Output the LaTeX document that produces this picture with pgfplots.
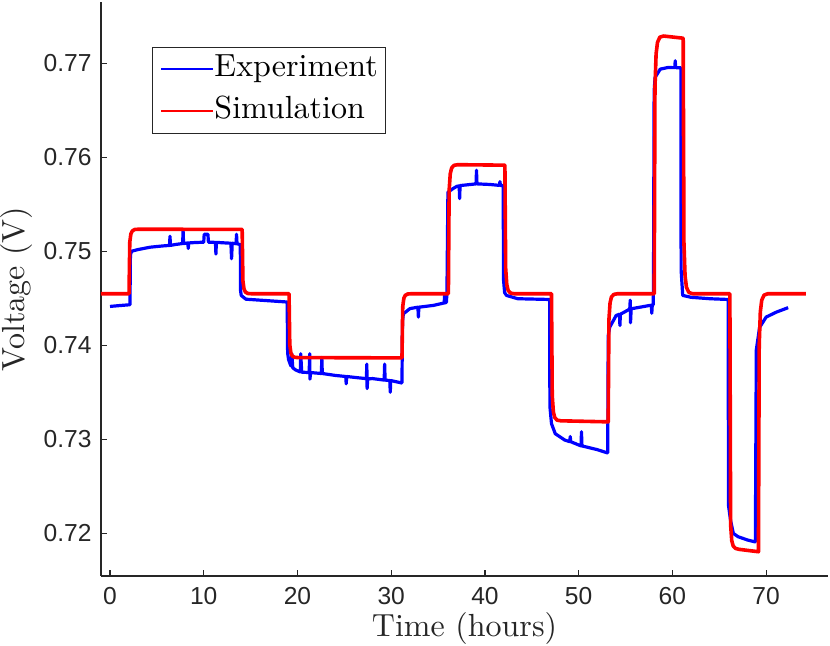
\documentclass[border=0pt]{standalone}
\usepackage{fontspec}
\setsansfont{Liberation Sans}
\newfontfamily\lmten{lmroman10-regular.otf}
\usepackage{pgfplots}
\pgfplotsset{compat=1.18}
\definecolor{axgray}{HTML}{262626}
\begin{document}
\begin{tikzpicture}
\begin{axis}[
  scale only axis,
  width=363.5pt, height=287pt,
  xmin=-0.96, xmax=76.6,
  ymin=0.71547, ymax=0.7765,
  axis lines=left,
  axis line style={-, draw=axgray, line width=0.6pt},
  tick align=inside,
  major tick length=3pt,
  tick style={draw=axgray, line width=0.6pt},
  xtick={0,10,20,30,40,50,60,70},
  ytick={0.72,0.73,0.74,0.75,0.76,0.77},
  scaled y ticks=false,
  /pgf/number format/assume math mode=true,
  xticklabel={\pgfmathprintnumber{\tick}},
  yticklabel={\pgfmathprintnumber[fixed,fixed zerofill,precision=2]{\tick}},
  ticklabel style={font=\sffamily\fontsize{12.3}{14}\selectfont, text=axgray, inner sep=0pt},
  xticklabel style={yshift=-5.5pt},
  yticklabel style={xshift=-4.5pt},
  legend style={at={(axis description cs:0,1)}, anchor=north west,
    xshift=25.5pt, yshift=-22.5pt,
    draw=axgray, line width=0.5pt,
    inner xsep=4pt, inner ysep=3pt,
    font=\lmten\fontsize{16}{19}\selectfont,
    nodes={inner sep=0pt, text height=11.5pt, text depth=4.5pt},
    row sep=5pt,
    cells={anchor=west}},
  legend image code/.code={\draw[#1, line width=1pt] (0pt,0pt) -- (26pt,0pt);},
]
\addplot[blue, line width=1.6pt, line join=round] coordinates {
(0,0.74413) (1.0,0.74422) (2.1,0.74431)
(2.13,0.74431) (2.18,0.7496) (2.3,0.75000) (3,0.75018) (4.3,0.75043) (5.5,0.75055)
(6.35,0.75062) (6.4,0.7516) (6.45,0.75062)
(7,0.75072) (7.75,0.75082) (7.8,0.7522) (7.85,0.75082) (8.3,0.75088) (8.35,0.7503) (8.4,0.75088)
(9,0.75092) (10.0,0.75096) (10.05,0.7518) (10.45,0.7518) (10.5,0.75096)
(11.25,0.75094) (11.3,0.7497) (11.35,0.75094) (12,0.7509) (12.9,0.75085) (12.97,0.7492) (13.04,0.75085)
(13.45,0.7508) (13.5,0.7518) (13.55,0.7508) (13.9,0.7507)
(13.93,0.7458) (14.0,0.7453) (14.5,0.7449) (17,0.74473) (18.9,0.7446)
(18.95,0.7392) (19.05,0.73847) (19.3,0.7378) (19.4,0.7391) (19.5,0.7376) (19.8,0.73738)
(20.3,0.73716) (20.35,0.7391) (20.45,0.73714) (21.25,0.7371) (21.3,0.7391) (21.33,0.7364) (21.4,0.7371)
(22.55,0.73700) (22.6,0.7387) (22.65,0.73700) (24,0.7368) (25.15,0.73668) (25.2,0.7359) (25.25,0.73668)
(27.35,0.73645) (27.4,0.7380) (27.43,0.7354) (27.5,0.73643) (28,0.73646) (29.25,0.7363) (29.3,0.7380)
(29.35,0.7363) (29.85,0.73625) (29.9,0.7350) (29.95,0.73625) (31.1,0.7360)
(31.15,0.7360) (31.2,0.7425) (31.3,0.74335) (32,0.7439) (32.85,0.74405) (32.9,0.7430) (32.95,0.74405)
(34.5,0.74424) (35.65,0.7445) (35.7,0.7453) (35.75,0.7445) (35.9,0.7446)
(35.95,0.7460) (36.05,0.75626) (36.5,0.7566) (37,0.7569) (37.25,0.75695) (37.3,0.7556) (37.35,0.75698)
(39.05,0.75716) (39.1,0.7586) (39.15,0.75716) (40.5,0.7571) (41.55,0.757) (41.6,0.7574) (41.65,0.757) (41.95,0.75697)
(41.98,0.7470) (42.1,0.7456) (42.3,0.7453) (43.5,0.74495) (46.9,0.74487)
(46.93,0.7335) (47.1,0.73167) (47.5,0.7306) (48.5,0.72993) (49.05,0.72975) (49.1,0.7303) (49.15,0.72975)
(50,0.7294) (50.25,0.7293) (50.3,0.7308) (50.35,0.7293) (52,0.7289) (53.05,0.72856)
(53.1,0.72856) (53.15,0.7410) (53.3,0.7419) (54.0,0.74317) (54.35,0.7433) (54.4,0.7421) (54.45,0.7433)
(55.45,0.74385) (55.5,0.7448) (55.53,0.7424) (55.6,0.74388) (57.6,0.74424) (57.75,0.74425) (57.8,0.7434)
(57.85,0.74428) (57.95,0.7443)
(57.98,0.7460) (58.05,0.7670) (58.15,0.76847) (58.7,0.76936) (59.5,0.76953) (60.25,0.76952) (60.3,0.77025)
(60.35,0.76952) (60.9,0.7695)
(60.93,0.7480) (61.1,0.7453) (62,0.7451) (64,0.74495) (65.95,0.74487)
(65.98,0.7230) (66.2,0.7214) (66.5,0.7200) (67,0.71965) (68,0.7193) (68.8,0.7191)
(68.85,0.7191) (68.95,0.7395) (69.3,0.7419) (70.0,0.7430) (71.1,0.74353) (72.35,0.744)
};
\addlegendentry{Experiment}
\addplot[red, line width=1.8pt, line join=round] coordinates {
(-1,0.74548) (2.03,0.74548)
(2.11,0.75097) (2.23,0.75186) (2.38,0.75215) (2.63,0.75231) (3.03,0.75234)
(14.1,0.75232)
(14.18,0.74685) (14.3,0.74596) (14.45,0.74565) (14.7,0.74551) (15.1,0.74548)
(19.1,0.74548)
(19.18,0.74005) (19.3,0.73916) (19.45,0.73885) (19.7,0.73872) (20.1,0.73869)
(31.15,0.73866)
(31.23,0.74412) (31.35,0.74500) (31.5,0.74531) (31.75,0.74545) (32.15,0.74548)
(36.1,0.74548)
(36.18,0.75646) (36.3,0.75824) (36.45,0.75886) (36.7,0.75913) (37.1,0.75920)
(42.13,0.75915)
(42.21,0.74822) (42.33,0.74644) (42.48,0.74582) (42.73,0.74555) (43.13,0.74548)
(47.1,0.74548)
(47.18,0.73467) (47.3,0.73292) (47.45,0.73231) (47.7,0.73204) (48.1,0.73197)
(53.15,0.73186)
(53.23,0.74276) (53.35,0.74453) (53.5,0.74514) (53.75,0.74541) (54.15,0.74548)
(58.06,0.74548)
(58.14,0.76742) (58.26,0.77098) (58.41,0.77221) (58.66,0.77276) (59.06,0.77288)
(61.15,0.77265)
(61.23,0.75091) (61.35,0.74738) (61.5,0.74616) (61.75,0.74562) (62.15,0.74548)
(66.13,0.74548)
(66.21,0.72091) (66.33,0.71923) (66.48,0.71867) (66.73,0.71840) (67.13,0.71830)
(69.18,0.71805)
(69.26,0.74000) (69.38,0.74356) (69.53,0.74480) (69.78,0.74534) (70.18,0.74548)
(74.25,0.74548)
};
\addlegendentry{Simulation}
\end{axis}
\node[anchor=base, font=\lmten\fontsize{16}{19}\selectfont, text=axgray, inner sep=0pt] at ([yshift=-30.5pt]current axis.south) {Time (hours)};
\node[anchor=base, rotate=90, font=\lmten\fontsize{16}{19}\selectfont, text=axgray, inner sep=0pt] at ([xshift=-38pt]current axis.west) {Voltage (V)};
\pgfresetboundingbox
\useasboundingbox ([xshift=-50.5pt, yshift=-35pt]current axis.south west) rectangle ([xshift=1pt, yshift=1pt]current axis.north east);
\end{tikzpicture}
\end{document}
